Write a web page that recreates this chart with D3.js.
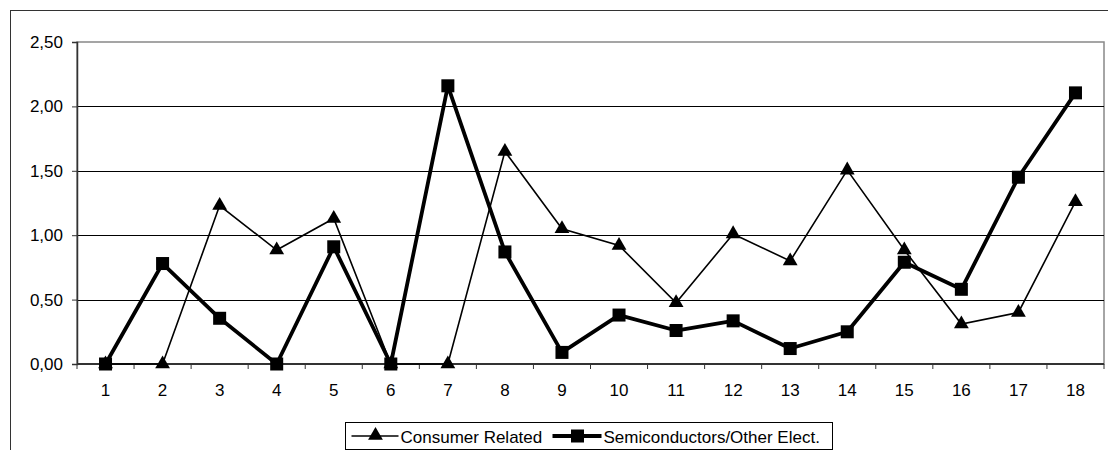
<!DOCTYPE html>
<meta charset="utf-8">
<script src="https://d3js.org/d3.v7.min.js"></script>
<style>
  body { margin: 0; background: #fff; }
  svg text { font-family: "Liberation Sans", Arial, sans-serif; font-size: 17px; fill: #000; }
</style>
<div id="chart"></div>
<script>
  // chart data
  var categories = d3.range(1, 19).map(String);
  var consumerRelated = [0, 0, 1.23, 0.885, 1.13, 0, 0, 1.65, 1.05, 0.92, 0.475, 1.01, 0.80, 1.505, 0.885, 0.31, 0.40, 1.26];
  var semiconductors = [0, 0.78, 0.355, 0, 0.91, 0, 2.16, 0.87, 0.09, 0.38, 0.26, 0.335, 0.12, 0.25, 0.79, 0.58, 1.45, 2.105];
  var yTicks = [0, 0.5, 1, 1.5, 2, 2.5];

  var width = 1108, height = 450;
  var plot = { left: 77, top: 42, right: 1104, bottom: 364 };

  var svg = d3.select("#chart").append("svg")
    .attr("width", width)
    .attr("height", height);

  // outer chart frame (runs off the right and bottom)
  svg.append("rect")
    .attr("x", 10.5).attr("y", 10.5)
    .attr("width", 1110).attr("height", 450)
    .attr("fill", "none").attr("stroke", "#333").attr("stroke-width", 1);

  var x = d3.scaleBand().domain(categories).range([plot.left, plot.right]);
  var y = d3.scaleLinear().domain([0, 2.5]).range([plot.bottom, plot.top]);

  // plot area border (grey)
  svg.append("rect")
    .attr("x", plot.left).attr("y", plot.top)
    .attr("width", plot.right - plot.left).attr("height", plot.bottom - plot.top)
    .attr("fill", "none").attr("stroke", "#888").attr("stroke-width", 1.5);

  // gridlines
  svg.selectAll("grid")
    .data(yTicks.filter(d => d > 0 && d < 2.5))
    .enter()
    .append("line")
    .attr("x1", plot.left).attr("x2", plot.right)
    .attr("y1", d => Math.round(y(d)) + 0.5).attr("y2", d => Math.round(y(d)) + 0.5)
    .attr("stroke", "#000").attr("stroke-width", 1);

  var fmt = d => d3.format(".2f")(d).replace(".", ",");

  // y axis
  var yAxis = svg.append("g")
    .attr("transform", "translate(" + plot.left + ",0)")
    .call(d3.axisLeft(y).tickValues(yTicks).tickFormat(fmt).tickSize(5).tickPadding(9));
  yAxis.select(".domain").attr("stroke", "#333").attr("stroke-width", 1.5);
  yAxis.selectAll(".tick line").attr("stroke", "#333");

  // x axis: ticks at category boundaries
  var xAxis = svg.append("g")
    .attr("transform", "translate(0," + plot.bottom + ")");
  xAxis.append("line")
    .attr("x1", plot.left).attr("x2", plot.right)
    .attr("stroke", "#333").attr("stroke-width", 2);
  xAxis.selectAll("tickmark")
    .data(d3.range(categories.length + 1))
    .enter()
    .append("line")
    .attr("x1", i => plot.left + i * x.step()).attr("x2", i => plot.left + i * x.step())
    .attr("y1", 0).attr("y2", 5)
    .attr("stroke", "#333");
  xAxis.selectAll("label")
    .data(categories)
    .enter()
    .append("text")
    .attr("x", d => x(d) + x.bandwidth() / 2)
    .attr("y", 32)
    .attr("text-anchor", "middle")
    .text(d => d);

  var cx = (d, i) => x(categories[i]) + x.bandwidth() / 2;
  var line = d3.line().x(cx).y(d => y(d));

  // Consumer Related
  svg.append("path")
    .attr("d", line(consumerRelated))
    .attr("fill", "none").attr("stroke", "#000").attr("stroke-width", 1.6);
  var tri = d3.symbol().type(d3.symbolTriangle).size(95);
  svg.selectAll("tri")
    .data(consumerRelated)
    .enter()
    .append("path")
    .attr("d", tri)
    .attr("transform", (d, i) => "translate(" + cx(d, i) + "," + y(d) + ")")
    .attr("fill", "#000");

  // Semiconductors/Other Elect.
  svg.append("path")
    .attr("d", line(semiconductors))
    .attr("fill", "none").attr("stroke", "#000").attr("stroke-width", 3.8)
    .attr("stroke-linejoin", "round");
  svg.selectAll("sq")
    .data(semiconductors)
    .enter()
    .append("rect")
    .attr("x", (d, i) => cx(d, i) - 6.5)
    .attr("y", d => y(d) - 6.5)
    .attr("width", 13).attr("height", 13)
    .attr("fill", "#000");

  // legend
  var legend = svg.append("g").attr("transform", "translate(345.5,422.5)");
  legend.append("rect")
    .attr("width", 487).attr("height", 27)
    .attr("fill", "#fff").attr("stroke", "#000").attr("stroke-width", 1);
  legend.append("line")
    .attr("x1", 6).attr("x2", 53).attr("y1", 13.5).attr("y2", 13.5)
    .attr("stroke", "#000").attr("stroke-width", 1.6);
  legend.append("path")
    .attr("d", tri)
    .attr("transform", "translate(30,13)");
  legend.append("text").attr("x", 55).attr("y", 20).text("Consumer Related");
  legend.append("line")
    .attr("x1", 207).attr("x2", 256).attr("y1", 13.5).attr("y2", 13.5)
    .attr("stroke", "#000").attr("stroke-width", 3.8);
  legend.append("rect")
    .attr("x", 225.5).attr("y", 7).attr("width", 13).attr("height", 13);
  legend.append("text").attr("x", 258).attr("y", 20).text("Semiconductors/Other Elect.");
</script>
